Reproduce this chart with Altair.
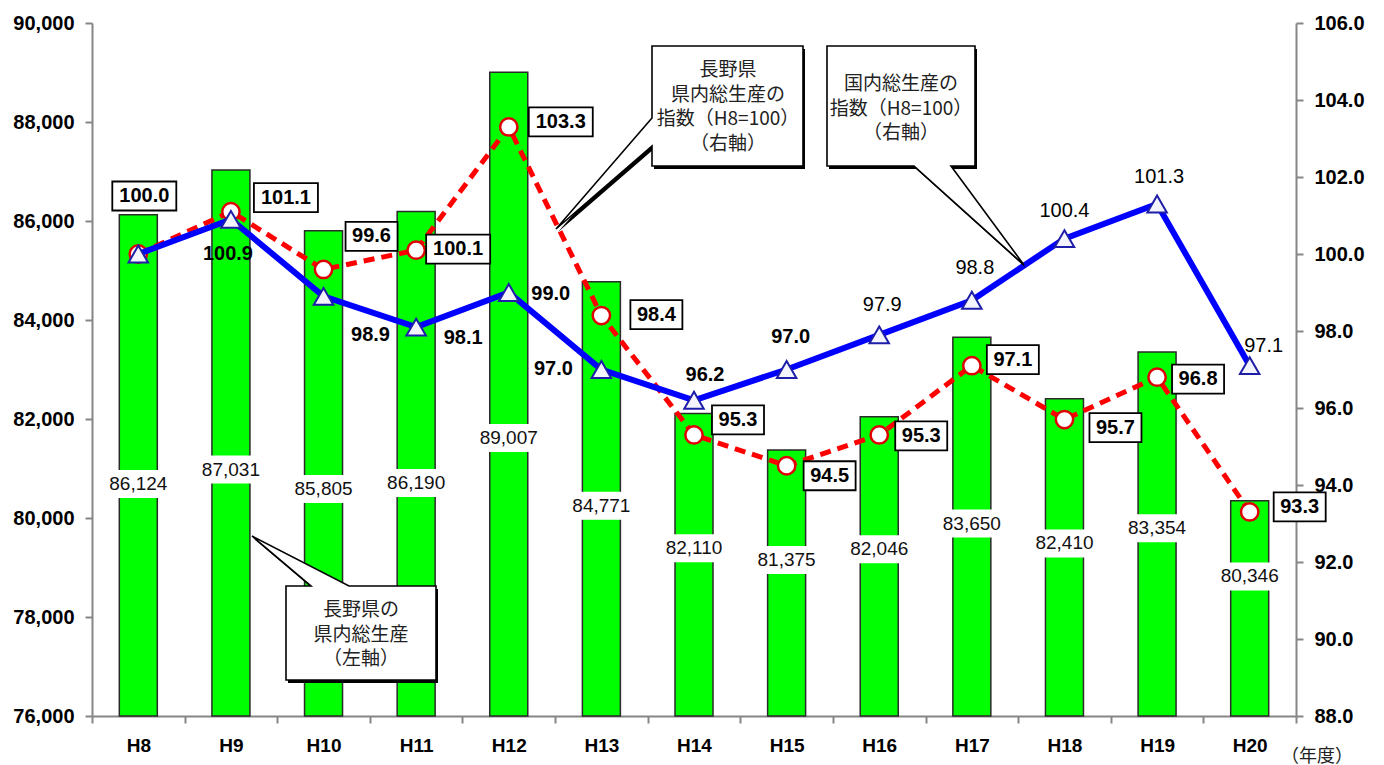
import altair as alt
import pandas as pd

# ---------------- data ----------------
years = ["H8", "H9", "H10", "H11", "H12", "H13", "H14", "H15", "H16", "H17", "H18", "H19", "H20"]
gdp = [86124, 87031, 85805, 86190, 89007, 84771, 82110, 81375, 82046, 83650, 82410, 83354, 80346]
nagano_idx = [100.0, 101.1, 99.6, 100.1, 103.3, 98.4, 95.3, 94.5, 95.3, 97.1, 95.7, 96.8, 93.3]
japan_idx = [100.0, 100.9, 98.9, 98.1, 99.0, 97.0, 96.2, 97.0, 97.9, 98.8, 100.4, 101.3, 97.1]

left_ticks = [76000, 78000, 80000, 82000, 84000, 86000, 88000, 90000]
right_ticks = [88, 90, 92, 94, 96, 98, 100, 102, 104, 106]

callout_nagano_idx = ["長野県", "県内総生産の", "指数（H8=100）", "（右軸）"]
callout_japan_idx = ["国内総生産の", "指数（H8=100）", "（右軸）"]
callout_gdp = ["長野県の", "県内総生産", "（左軸）"]
unit_label = "（年度）"

df = pd.DataFrame({"year": years, "gdp": gdp, "nagano": nagano_idx, "japan": japan_idx})

# ---------------- layout (label offsets in px) ----------------
red_off = {"H8": (6, -58), "H9": (55, -14), "H10": (48, -33), "H11": (42, -1),
           "H12": (52, -5), "H13": (55, -1), "H14": (44, -15), "H15": (43, 10),
           "H16": (42, 1), "H17": (41, -6), "H18": (51, 8), "H19": (41, 2), "H20": (50, -5)}
blue_off = {"H9": (-3, 35), "H10": (47, 39), "H11": (47, 11), "H12": (42, 1),
            "H13": (-48, -1), "H14": (11, -25), "H15": (4, -33), "H16": (3, -30),
            "H17": (3, -32), "H18": (0, -28), "H19": (2, -27), "H20": (14, -20)}
blue_bold = {"H9", "H10", "H11", "H12", "H13", "H14", "H15"}

FONT = "Liberation Sans"
JFONT = "Noto Sans CJK JP"
AX = "#868686"

axis_common = dict(title=None, domainColor=AX, domainWidth=2, tickColor=AX, tickWidth=2,
                   tickSize=7, labelFont=FONT, labelFontWeight="bold",
                   labelColor="black", grid=False)

x_axis = alt.Axis(labelAngle=0, tickBand="extent", labelPadding=13, labelFontSize=19,
                  **axis_common)
x_scale = alt.Scale(paddingInner=0, paddingOuter=0)
yl_axis = alt.Axis(values=left_ticks, format=",d", orient="left", labelPadding=11,
                   labelFontSize=20, **axis_common)
yl_scale = alt.Scale(domain=[76000, 90000], nice=False, zero=False)
yr_axis = alt.Axis(values=right_ticks, format=".1f", orient="right", labelPadding=11,
                   labelFontSize=20, **axis_common)
yr_scale = alt.Scale(domain=[88, 106], nice=False, zero=False)

X = alt.X("year:N", sort=years, scale=x_scale, axis=x_axis)


def YL(field):
    return alt.Y(field, type="quantitative", scale=yl_scale, axis=yl_axis)


def YR(field):
    return alt.Y(field, type="quantitative", scale=yr_scale, axis=yr_axis)


base = alt.Chart(df)

# ---------------- left layer: bars ----------------
bars = base.mark_bar(color="#00FF00", stroke="#2a2a2a", strokeWidth=1.5, size=38).encode(
    x=X, y=YL("gdp"), y2=alt.datum(76000))

bar_lab_pos = base.transform_calculate(ly="80056 + 0.323 * (datum.gdp - 84171)")
bar_lab_bg = bar_lab_pos.mark_point(
    shape="M-34,-14 L34,-14 L34,14 L-34,14 Z", size=4, filled=True, fill="white",
    strokeWidth=0, opacity=1).encode(x=X, y=YL("ly"))
bar_lab = bar_lab_pos.mark_text(font=FONT, fontSize=19, color="#111").encode(
    x=X, y=YL("ly"), text=alt.Text("gdp:Q", format=","))

left = alt.layer(bars, bar_lab_bg, bar_lab)

# ---------------- right layer: index lines ----------------
red_line = base.mark_line(color="#FF0000", strokeWidth=5, strokeDash=[11, 7]).encode(
    x=X, y=YR("nagano"))
red_pts = base.mark_point(shape="circle", size=300, filled=True, fill="white",
                          stroke="#E00000", strokeWidth=2.5, opacity=1).encode(
    x=X, y=YR("nagano"))
blue_line = base.mark_line(color="#0000FF", strokeWidth=6).encode(x=X, y=YR("japan"))
blue_pts = base.mark_point(shape="triangle-up", size=380, filled=True, fill="#F4F4FF",
                           stroke="#1E1EA8", strokeWidth=2, opacity=1).encode(
    x=X, y=YR("japan"))

label_layers = []
for yr, v in zip(years, nagano_idx):
    dx, dy = red_off[yr]
    w = 64 if len(f"{v:.1f}") == 5 else 52
    h = 29
    path = (f"M{dx - w / 2},{dy - h / 2} L{dx + w / 2},{dy - h / 2} "
            f"L{dx + w / 2},{dy + h / 2} L{dx - w / 2},{dy + h / 2} Z")
    sub = base.transform_filter(alt.datum.year == yr)
    label_layers.append(sub.mark_point(shape=path, size=4, filled=True, fill="white",
                                       stroke="black", strokeWidth=1.8, opacity=1).encode(
        x=X, y=YR("nagano")))
    label_layers.append(sub.mark_text(dx=dx, dy=dy, font=FONT, fontSize=20,
                                      fontWeight="bold", color="black").encode(
        x=X, y=YR("nagano"), text=alt.Text("nagano:Q", format=".1f")))

for yr, v in zip(years, japan_idx):
    if yr not in blue_off:
        continue
    dx, dy = blue_off[yr]
    sub = base.transform_filter(alt.datum.year == yr)
    label_layers.append(sub.mark_text(dx=dx, dy=dy, font=FONT, fontSize=20,
                                      fontWeight="bold" if yr in blue_bold else "normal",
                                      color="black").encode(
        x=X, y=YR("japan"), text=alt.Text("japan:Q", format=".1f")))

# ---------------- callouts (plot-area pixel coordinates) ----------------
one = pd.DataFrame({"k": [0]})
LH = 24.5


def callout(path, lines, tx, ty_first):
    c = alt.Chart(one)
    shadow = c.mark_point(shape=path, size=4, filled=True, fill="black",
                          strokeWidth=0, opacity=1).encode(x=alt.value(2), y=alt.value(3))
    bubble = c.mark_point(shape=path, size=4, filled=True, fill="white", stroke="black",
                          strokeWidth=1.6, opacity=1).encode(x=alt.value(0), y=alt.value(0))
    text = c.mark_text(text=lines, font=JFONT, fontSize=19, lineHeight=LH, align="center",
                       baseline="middle", color="#222").encode(
        x=alt.value(tx), y=alt.value(ty_first))
    return [shadow, bubble, text]


p1 = "M560,23 L711,23 L711,143 L560,143 L560,123 L464,206 L560,95 Z"
p2 = "M735,23 L883,23 L883,143 L859,143 L932,242 L822,143 L735,143 Z"
p3 = "M194,563 L219,563 L160,513 L257,563 L344,563 L344,657 L194,657 Z"

ann = []
ann += callout(p1, callout_nagano_idx, 636, 47)
ann += callout(p2, callout_japan_idx, 809, 61)
ann += callout(p3, callout_gdp, 269, 587)
ann.append(alt.Chart(one).mark_text(text=unit_label, font=JFONT, fontSize=18,
                                    color="#222").encode(x=alt.value(1225), y=alt.value(734)))

right = alt.layer(red_line, red_pts, blue_line, blue_pts, *label_layers, *ann)

chart = alt.layer(left, right).resolve_scale(y="independent").properties(
    width=1204, height=693,
    padding={"left": 4, "top": 5, "right": 5, "bottom": 0},
    background="white",
).configure_view(stroke=None)

chart.save("out.html", embed_options={"renderer": "svg", "actions": False})
